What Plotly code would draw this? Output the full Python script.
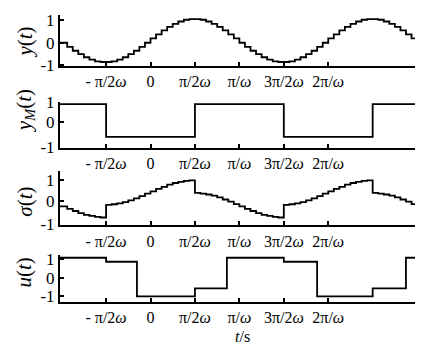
import numpy as np
import plotly.graph_objects as go
from plotly.subplots import make_subplots

PI = np.pi
X_MIN, X_MAX = -3.2, 9.35
STEP = PI / 16  # sample-and-hold interval

# y(t): held samples, one per interval starting at -pi
Y_VALUES = [-0.10, -0.29, -0.47, -0.63, -0.77, -0.88, -0.96, -0.99,
            -0.99, -0.96, -0.88, -0.77, -0.63, -0.47, -0.29, -0.10,
            0.10, 0.29, 0.47, 0.63, 0.77, 0.88, 0.96, 0.99,
            0.99, 0.96, 0.88, 0.77, 0.63, 0.47, 0.29, 0.10,
            -0.10, -0.29, -0.47, -0.63, -0.77, -0.88, -0.96, -0.99,
            -0.99, -0.96, -0.88, -0.77, -0.63, -0.47, -0.29, -0.10,
            0.10, 0.29, 0.47, 0.63, 0.77, 0.88, 0.96, 0.99,
            0.99, 0.96, 0.88, 0.77, 0.63, 0.47, 0.29, 0.10]

# sigma(t): held samples on the same intervals
SIGMA_VALUES = [-0.39, -0.52, -0.63, -0.74, -0.83, -0.89, -0.94, -0.97,
                -0.31, -0.28, -0.23, -0.17, -0.08, 0.03, 0.14, 0.27,
                0.39, 0.52, 0.63, 0.74, 0.83, 0.89, 0.94, 0.97,
                0.31, 0.28, 0.23, 0.17, 0.08, -0.03, -0.14, -0.27,
                -0.39, -0.52, -0.63, -0.74, -0.83, -0.89, -0.94, -0.97,
                -0.31, -0.28, -0.23, -0.17, -0.08, 0.03, 0.14, 0.27,
                0.39, 0.52, 0.63, 0.74, 0.83, 0.89, 0.94, 0.97,
                0.31, 0.28, 0.23, 0.17, 0.08, -0.03, -0.14, -0.27]

# y_M(t): square wave
YM_SWITCH_TIMES = [-PI / 2, PI / 2, 3 * PI / 2, 5 * PI / 2]
YM_LEVELS = [1, -1, 1, -1, 1]

# u(t): piecewise constant control
U_SWITCH_TIMES = [-PI / 2, -0.48, PI / 2, 2.70, 3 * PI / 2, 5.89, 5 * PI / 2, 9.03]
U_LEVELS = [1.2, 0.95, -1.2, -0.7, 1.2, 0.95, -1.2, -0.7, 1.2]

X_TICK_VALS = [-PI / 2, 0, PI / 2, PI, 3 * PI / 2, 2 * PI]
X_TICK_TEXT = ["- π/2<i>ω</i>", "0", "π/2<i>ω</i>", "π/<i>ω</i>", "3π/2<i>ω</i>", "2π/<i>ω</i>"]

Y_TICK_TEXT = ["1", "0", "-1"]
PANEL_TICK_VALS = [[0.97, -0.1, -1.12], [1.1, -0.1, -1.6], [1.0, -0.13, -1.33], [1.13, -0.08, -1.2]]
PANEL_RANGES = [[-1.18, 1.18], [-1.66, 1.13], [-1.38, 1.44], [-1.55, 1.38]]
PANEL_DOMAINS = [[0.8231, 1.0], [0.5408, 0.699], [0.2721, 0.4592], [0.0068, 0.1701]]
PANEL_TITLES = ["<i>y</i>(<i>t</i>)", "<i>y</i><sub><i>M</i></sub>(<i>t</i>)",
                "<i>σ</i>(<i>t</i>)", "<i>u</i>(<i>t</i>)"]
TITLE_Y = [0.908, 0.670, 0.354, 0.109]

SERIF = "Liberation Serif"


def held(values):
    edges = [-PI + k * STEP for k in range(len(values))]
    edges[0] = X_MIN
    return edges + [X_MAX], list(values) + [values[-1]]


def steps(switches, levels):
    return [X_MIN] + list(switches) + [X_MAX], list(levels) + [levels[-1]]


fig = make_subplots(rows=4, cols=1)
series = [held(Y_VALUES), steps(YM_SWITCH_TIMES, YM_LEVELS),
          held(SIGMA_VALUES), steps(U_SWITCH_TIMES, U_LEVELS)]
for i, (xs, ys) in enumerate(series):
    fig.add_trace(go.Scatter(x=xs, y=ys, mode="lines", line=dict(color="black", width=1.8, shape="hv"),
                             hoverinfo="skip"), row=i + 1, col=1)
    fig.update_xaxes(row=i + 1, col=1, range=[X_MIN, X_MAX], showline=True, linecolor="black", linewidth=2,
                     ticks="inside", ticklen=4, tickwidth=1.5, tickcolor="black",
                     tickvals=X_TICK_VALS, ticktext=X_TICK_TEXT, tickfont=dict(size=16, family=SERIF),
                     showgrid=False, zeroline=False, mirror=False)
    fig.update_yaxes(row=i + 1, col=1, range=PANEL_RANGES[i], domain=PANEL_DOMAINS[i], showline=True,
                     linecolor="black", linewidth=2, ticks="inside", ticklen=4, tickwidth=1.5,
                     tickcolor="black", tickvals=PANEL_TICK_VALS[i], ticktext=Y_TICK_TEXT,
                     tickfont=dict(size=17, family=SERIF), showgrid=False, zeroline=False, mirror=False)
    fig.add_annotation(xref="paper", yref="paper", x=-0.0986, y=TITLE_Y[i], text=PANEL_TITLES[i],
                       textangle=-90, showarrow=False, xanchor="center", yanchor="middle",
                       font=dict(size=21, family=SERIF))

fig.add_annotation(xref="paper", yref="paper", x=0.515, y=-0.146, text="<i>t</i>/s", showarrow=False,
                   xanchor="center", yanchor="bottom", borderpad=0, font=dict(size=16, family=SERIF))

fig.update_layout(width=421, height=347, margin=dict(l=60, r=6, t=10, b=43), plot_bgcolor="white",
                  paper_bgcolor="white", showlegend=False,
                  font=dict(family=SERIF, color="black"))
fig.write_html("out.html")
